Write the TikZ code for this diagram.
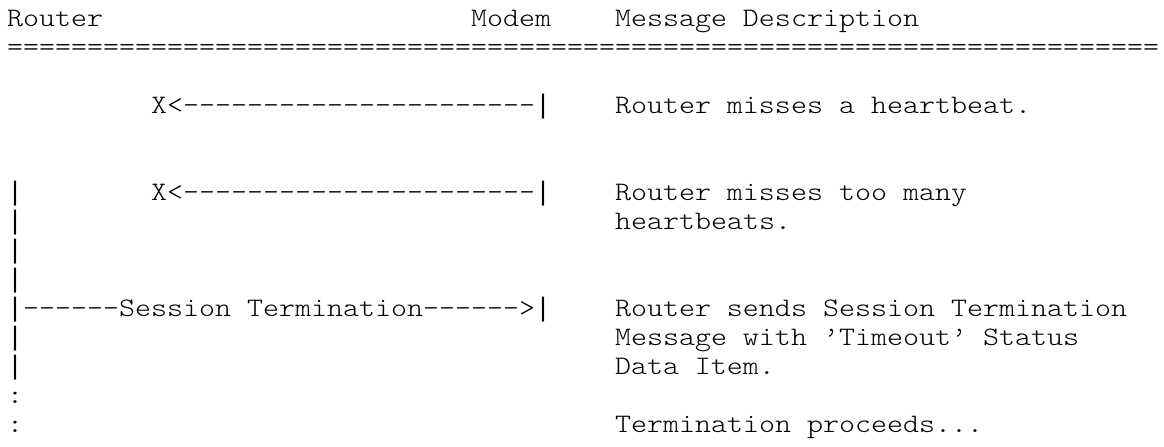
\documentclass[tikz,border=0pt]{standalone}
\usepackage{fontspec}
\usepackage{graphicx}
\setmonofont{lmmonolt10-regular.otf}
\newfontfamily\barfont{Liberation Mono}
\tikzset{
  asc/.style={anchor=base west, inner sep=0pt, outer sep=0pt,
    font=\ttfamily\fontsize{30.48pt}{29pt}\selectfont},
}
% typewriter glyphs are a little tall for the cell, so squeeze them
\newcommand\tline[1]{\scalebox{1}[0.875]{#1}}
% long bar for the life lines (same 16pt cell)
\newcommand\vb{{\barfont\fontsize{26.67pt}{29pt}\selectfont|}}
\begin{document}
\begin{tikzpicture}[x=16pt,y=-29.05pt]
  \def\desc{38} % column of the description text
  \useasboundingbox (-0.4375,-0.895) rectangle (72.3125,14.458);
  % header
  \node[asc] (router) at (0,0) {\tline{Router}};
  \node[asc] (modem) at (29,0) {\tline{Modem}};
  \node[asc] (head) at (\desc,0) {\tline{Message Description}};
  \node[asc] (rule) at (0,1) {\tline{========================================================================}};
  % missed heartbeats
  \node[asc] (miss1) at (9,3) {\tline{X<----------------------}\vb};
  \node[asc] (miss1txt) at (\desc,3) {\tline{Router misses a heartbeat.}};
  \node[asc] (miss2) at (9,6) {\tline{X<----------------------}\vb};
  \node[asc] (miss2txt) at (\desc,6) {\tline{Router misses too many}};
  \node[asc] (miss2txtb) at (\desc,7) {\tline{heartbeats.}};
  % router life line
  \foreach \r in {6,...,9,11,12} \node[asc] (life\r) at (0,\r) {\vb};
  \foreach \r in {13,14} \node[asc] (dots\r) at (0,\r) {\tline{:}};
  % session termination
  \node[asc] (term) at (0,10) {\vb\tline{------Session Termination------>}\vb};
  \node[asc] (termtxt) at (\desc,10) {\tline{Router sends Session Termination}};
  \node[asc] (termtxtb) at (\desc,11) {\tline{Message with ’Timeout’ Status}};
  \node[asc] (termtxtc) at (\desc,12) {\tline{Data Item.}};
  \node[asc] (proceed) at (\desc,14) {\tline{Termination proceeds...}};
\end{tikzpicture}
\end{document}
